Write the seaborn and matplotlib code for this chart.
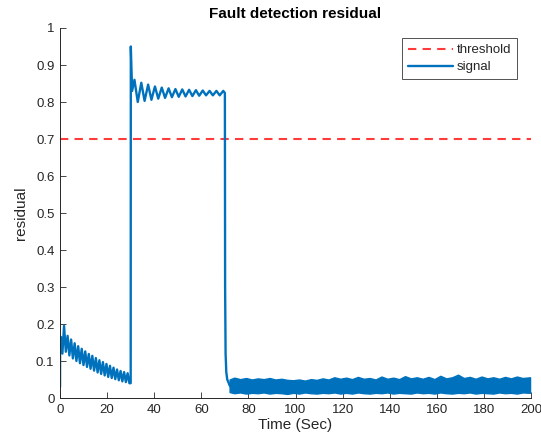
import numpy as np
import pandas as pd
import seaborn as sns
import matplotlib
matplotlib.use('Agg')
import matplotlib.pyplot as plt

# values
threshold = 0.7

# 0-30 s : decaying ripple (peaks / troughs)
seg1_peak_t = [0.4, 1.7, 3.2, 4.7, 6.2, 7.7, 9.2, 10.7, 12.2, 13.7, 15.2, 16.7,
               18.2, 19.7, 21.2, 22.7, 24.2, 25.7, 27.2, 28.7]
seg1_peak_v = [0.165, 0.195, 0.168, 0.158, 0.148, 0.14, 0.133, 0.126, 0.119, 0.114, 0.108,
               0.102, 0.097, 0.092, 0.087, 0.082, 0.077, 0.073, 0.07, 0.067]
seg1_trough_t = [1.0, 2.45, 3.95, 5.45, 6.95, 8.45, 9.95, 11.45, 12.95, 14.45, 15.95,
                 17.45, 18.95, 20.45, 21.95, 23.45, 24.95, 26.45, 27.95, 29.45]
seg1_trough_v = [0.12, 0.125, 0.115, 0.107, 0.1, 0.094, 0.089, 0.084, 0.079, 0.074, 0.069,
                 0.065, 0.061, 0.057, 0.054, 0.051, 0.048, 0.045, 0.043, 0.04]

# 30-70 s : fault active, ripple around 0.82
seg2_peak_t = [30.05, 31.6, 34.5, 37.4, 40.3, 43.2, 46.1, 49.0, 51.9, 54.8, 57.7,
               60.6, 63.5, 66.4, 69.3]
seg2_peak_v = [0.95, 0.86, 0.852, 0.847, 0.842, 0.839, 0.837, 0.835, 0.834, 0.833,
               0.832, 0.831, 0.83, 0.83, 0.83]
seg2_trough_t = [30.6, 33.0, 35.9, 38.8, 41.7, 44.6, 47.5, 50.4, 53.3, 56.2, 59.1,
                 62.0, 64.9, 67.8]
seg2_trough_v = [0.83, 0.8, 0.803, 0.806, 0.809, 0.811, 0.813, 0.814, 0.815, 0.816,
                 0.817, 0.818, 0.818, 0.818]

# edges / transitions
edge_t = [0.0, 0.02, 29.98, 30.0, 69.95, 70.0, 70.1, 70.3, 70.6, 71.0, 72.0]
edge_v = [0.03, 0.165, 0.04, 0.04, 0.825, 0.82, 0.3, 0.12, 0.07, 0.05, 0.035]

# 72-200 s : noise band envelope after fault cleared
band_t = [72, 74, 76.5, 79, 81.5, 84, 86.5, 89, 91.5, 94, 96.5, 99, 101.5, 104, 106.5,
          109, 111.5, 114, 116.5, 119, 121.5, 124, 126.5, 129, 131.5, 134, 136.5, 139,
          141.5, 144, 146.5, 149, 151.5, 154, 156.5, 159, 161.5, 164, 166.5, 169, 171.5,
          174, 176.5, 179, 181.5, 184, 186.5, 189, 191.5, 194, 196.5, 199.6]
band_hi = [0.05, 0.055, 0.051, 0.054, 0.05, 0.053, 0.051, 0.054, 0.05, 0.052, 0.049,
           0.048, 0.05, 0.047, 0.051, 0.049, 0.053, 0.05, 0.056, 0.052, 0.055, 0.051,
           0.057, 0.052, 0.054, 0.05, 0.058, 0.052, 0.055, 0.051, 0.059, 0.053, 0.056,
           0.052, 0.057, 0.051, 0.06, 0.053, 0.056, 0.063, 0.054, 0.057, 0.052, 0.058,
           0.053, 0.056, 0.052, 0.057, 0.053, 0.058, 0.054, 0.056]
band_lo = [0.016, 0.013, 0.015, 0.012, 0.014, 0.013, 0.015, 0.012, 0.014, 0.013, 0.011,
           0.014, 0.012, 0.015, 0.013, 0.012, 0.014, 0.013, 0.015, 0.012, 0.014, 0.012,
           0.015, 0.013, 0.012, 0.014, 0.013, 0.015, 0.012, 0.014, 0.013, 0.012, 0.015,
           0.013, 0.014, 0.012, 0.015, 0.013, 0.012, 0.014, 0.013, 0.015, 0.012, 0.014,
           0.013, 0.012, 0.015, 0.013, 0.014, 0.012, 0.015, 0.014]

xticks = list(range(0, 201, 20))
yticks = [0, 0.1, 0.2, 0.3, 0.4, 0.5, 0.6, 0.7, 0.8, 0.9, 1]
ytick_labels = ['0', '0.1', '0.2', '0.3', '0.4', '0.5', '0.6', '0.7', '0.8', '0.9', '1']

sig = pd.DataFrame({
    't': edge_t + seg1_peak_t + seg1_trough_t + seg2_peak_t + seg2_trough_t,
    'v': edge_v + seg1_peak_v + seg1_trough_v + seg2_peak_v + seg2_trough_v,
}).sort_values('t', kind='stable')
thr = pd.DataFrame({'t': [0, 200], 'v': [threshold, threshold]})

sns.set_style('white')
plt.rcParams['font.family'] = ['Liberation Sans', 'DejaVu Sans']
axcol = '#262626'
blue = '#0072BD'

fig = plt.figure(figsize=(5.41, 4.48), dpi=100)
ax = fig.add_axes([0.111, 0.1116, 0.8705, 0.8259])

sns.lineplot(data=thr, x='t', y='v', ax=ax, color='#FF3B3B', linestyle=(0, (4, 3)),
             linewidth=1.5, label='threshold')
sns.lineplot(data=sig, x='t', y='v', ax=ax, color=blue, linewidth=1.7,
             estimator=None, sort=False, label='signal')
ax.fill_between(band_t, band_lo, band_hi, color=blue, linewidth=1.0, edgecolor=blue)
ax.plot([72, 72.5], [0.035, 0.03], color=blue, linewidth=1.7)

ax.set_xlim(0, 200)
ax.set_ylim(0, 1)
ax.set_xticks(xticks)
ax.set_yticks(yticks)
ax.set_yticklabels(ytick_labels)
ax.tick_params(direction='in', length=4, width=0.6, colors=axcol, labelsize=9.5, pad=4,
               bottom=True, left=True)
for s in ['top', 'right']:
    ax.spines[s].set_visible(False)
for s in ['left', 'bottom']:
    ax.spines[s].set_color(axcol)
    ax.spines[s].set_linewidth(0.7)

ax.set_xlabel('Time (Sec)', fontsize=11, color=axcol, labelpad=2)
ax.set_ylabel('residual', fontsize=11, color=axcol, labelpad=6)
ax.set_title('Fault detection residual', fontsize=11, fontweight='bold', color='black', pad=7)

leg = ax.legend(loc='upper right', fontsize=9.5, frameon=True, fancybox=False,
                handlelength=3.4, handletextpad=0.3, borderpad=0.45, labelspacing=0.35,
                bbox_to_anchor=(0.985, 0.99))
leg.get_frame().set_edgecolor(axcol)
leg.get_frame().set_linewidth(0.7)

fig.savefig('out.png', dpi=100)
